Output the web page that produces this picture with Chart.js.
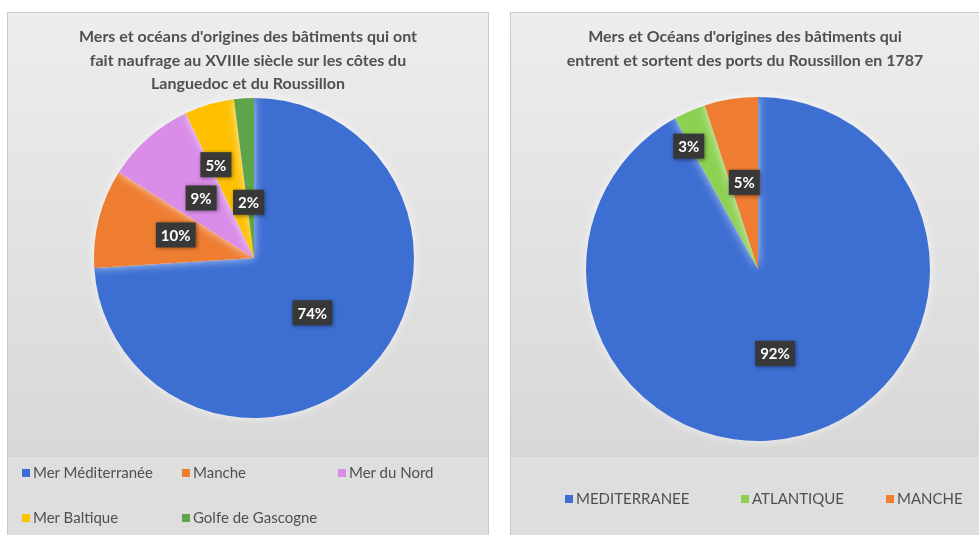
<!DOCTYPE html>
<html lang="fr">
<head>
<meta charset="utf-8">
<script src="https://cdn.jsdelivr.net/npm/chart.js@4/dist/chart.umd.min.js"></script>
<style>
  body { margin: 0; background: #ffffff; width: 979px; height: 535px; position: relative; overflow: hidden; font-family: Lato, "Open Sans", sans-serif; }
  .panel { position: absolute; top: 12px; height: 523px; border: 1px solid #c9c9c9; border-bottom: none; box-sizing: border-box;
           background: linear-gradient(#ededed 0%, #e3e3e3 40%, #d8d8d8 85%); }
  .band { position: absolute; left: 0; right: 0; top: 445px; bottom: 0; background: #dedede; border-top: 1px solid #e8e8e8; }
  .panel canvas { position: absolute; left: 0; top: 0; }
  .title { position: absolute; left: 0; right: 0; top: 11px; text-align: center; font-weight: 700; font-size: 16px; line-height: 23.5px; color: #505050; }
  .legend { position: absolute; font-size: 15px; color: #505050; }
  .legend .item { position: absolute; white-space: nowrap; }
  .legend .sw { display: inline-block; width: 8px; height: 8px; margin-right: 3px; vertical-align: 1px; }
</style>
</head>
<body>

<div class="panel" id="panelA" style="left:7px; width:482px;">
  <div class="band"></div>
  <canvas id="pieA" width="480" height="522"></canvas>
  <div class="title" id="titleA"></div>
  <div class="legend" id="legendA"></div>
</div>

<div class="panel" id="panelB" style="left:510px; width:469px; border-right:none;">
  <div class="band"></div>
  <canvas id="pieB" width="468" height="522"></canvas>
  <div class="title" id="titleB"></div>
  <div class="legend" id="legendB"></div>
</div>

<script>
// ---- données : naufrages XVIIIe siècle ----
const titleA = [
  "Mers et océans d'origines des bâtiments qui ont",
  "fait naufrage au XVIIIe siècle sur les côtes du",
  "Languedoc et du Roussillon"
];
const labelsA = ["Mer Méditerranée", "Manche", "Mer du Nord", "Mer Baltique", "Golfe de Gascogne"];
const valuesA = [74, 10, 9, 5, 2];
const colorsA = ["#3d6fd3", "#ee7d31", "#d98ce8", "#ffc000", "#5ea448"];

// ---- données : ports du Roussillon 1787 ----
const titleB = [
  "Mers et Océans d'origines des bâtiments qui",
  "entrent et sortent des ports du Roussillon  en 1787"
];
const labelsB = ["MEDITERRANEE", "ATLANTIQUE", "MANCHE"];
const valuesB = [92, 3, 5];
const colorsB = ["#3d6fd3", "#8dd152", "#ee7d31"];

// position des étiquettes (fraction du rayon, décalage d'angle en degrés)
const labelRadiusA = [0.50, 0.51, 0.50, 0.63, 0.35];
const labelShiftA = [0, 2, 0, -6, -2];
const labelRadiusB = [0.50, 0.82, 0.51];
const labelShiftB = [3, -6, 0];

// étiquettes en pourcentage dans des boîtes sombres
function pctLabels(radii, shifts) {
  return {
    id: "pctLabels",
    afterDatasetsDraw(chart) {
      const ctx = chart.ctx;
      const data = chart.data.datasets[0].data;
      const total = data.reduce((a, b) => a + b, 0);
      chart.getDatasetMeta(0).data.forEach((arc, i) => {
        const p = arc.getProps(["x", "y", "startAngle", "endAngle", "outerRadius"], true);
        const mid = (p.startAngle + p.endAngle) / 2 + shifts[i] * Math.PI / 180;
        const r = p.outerRadius * radii[i];
        const x = p.x + Math.cos(mid) * r;
        const y = p.y + Math.sin(mid) * r;
        const txt = Math.round(data[i] / total * 100) + "%";
        ctx.save();
        ctx.font = "bold 15px Lato, 'Open Sans', sans-serif";
        const w = ctx.measureText(txt).width + 10;
        const h = 25;
        ctx.shadowColor = "rgba(0,0,0,0.45)";
        ctx.shadowBlur = 4;
        ctx.shadowOffsetX = 1;
        ctx.shadowOffsetY = 1;
        ctx.fillStyle = "#383838";
        ctx.fillRect(x - w / 2, y - h / 2, w, h);
        ctx.shadowColor = "transparent";
        ctx.fillStyle = "#ffffff";
        ctx.textAlign = "center";
        ctx.textBaseline = "middle";
        ctx.fillText(txt, x, y + 1);
        ctx.restore();
      });
    }
  };
}

// halo clair autour du camembert
const pieGlow = {
  id: "pieGlow",
  beforeDatasetsDraw(chart) {
    chart.ctx.save();
    chart.ctx.shadowColor = "rgba(255,255,255,0.7)";
    chart.ctx.shadowBlur = 10;
  },
  afterDatasetsDraw(chart) {
    chart.ctx.restore();
  }
};

function makePie(canvasId, labels, values, colors, padding, radii, shifts) {
  return new Chart(document.getElementById(canvasId), {
    type: "pie",
    data: {
      labels: labels,
      datasets: [{ data: values, backgroundColor: colors, borderWidth: 0 }]
    },
    options: {
      responsive: false,
      animation: false,
      layout: { padding: padding },
      plugins: { legend: { display: false }, title: { display: false }, tooltip: { enabled: false } }
    },
    plugins: [pieGlow, pctLabels(radii, shifts)]
  });
}

function fillTitle(id, lines) {
  document.getElementById(id).innerHTML = lines.join("<br>");
}

// légende façon tableur
function fillLegend(id, labels, colors, slots) {
  const el = document.getElementById(id);
  labels.forEach((lab, i) => {
    const d = document.createElement("div");
    d.className = "item";
    d.style.left = slots[i][0] + "px";
    d.style.top = slots[i][1] + "px";
    d.innerHTML = '<span class="sw" style="background:' + colors[i] + '"></span>' + lab;
    el.appendChild(d);
  });
}

makePie("pieA", labelsA, valuesA, colorsA, { left: 86, top: 85, right: 74, bottom: 117 }, labelRadiusA, labelShiftA);
makePie("pieB", labelsB, valuesB, colorsB, { left: 75, top: 84, right: 49, bottom: 94 }, labelRadiusB, labelShiftB);

fillTitle("titleA", titleA);
fillTitle("titleB", titleB);

fillLegend("legendA", labelsA, colorsA, [[14, 450], [174, 450], [330, 450], [14, 495], [174, 495]]);
fillLegend("legendB", labelsB, colorsB, [[54, 476], [230, 476], [375, 476]]);
</script>
</body>
</html>
